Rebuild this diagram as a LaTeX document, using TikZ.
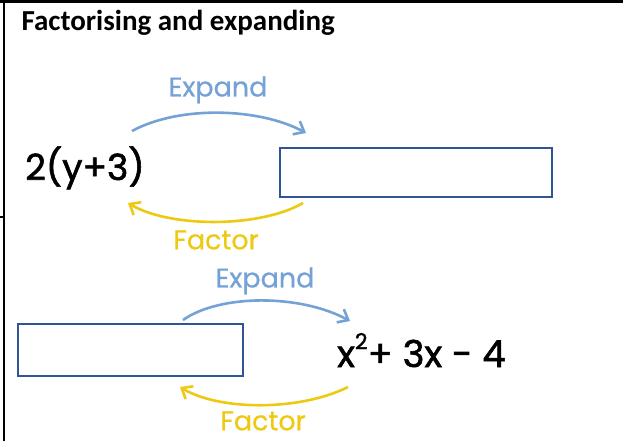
\documentclass[tikz,border=0pt]{standalone}
\usepackage{fontspec}
\setmainfont{Carlito}
\newfontfamily\handfont[FakeBold=1.6]{Poppins}
\newfontfamily\tagfont[FakeBold=0.6]{Poppins}
\usetikzlibrary{positioning,arrows.meta}
\definecolor{boxblue}{HTML}{2F5597}
\definecolor{expandblue}{HTML}{74A2D6}
\definecolor{factoryellow}{HTML}{EEC912}

\begin{document}
\begin{tikzpicture}[x=1pt, y=-1pt,
  answer/.style={draw=boxblue, line width=1.8pt, inner sep=0pt},
  expr/.style={font=\handfont\fontsize{36}{38}\selectfont, text=black, inner sep=0pt},
  tag/.style={font=\tagfont\fontsize{27}{29}\selectfont, inner sep=0pt},
  expandarrow/.style={-{Straight Barb[length=9pt,width=15pt]}, line width=2.6pt, color=expandblue},
  factorarrow/.style={-{Straight Barb[length=9pt,width=15pt]}, line width=2.6pt, color=factoryellow}
]
\useasboundingbox (0,0) rectangle (623,441);

% table lines
\draw[line width=3pt] (0,1.5) -- (623,1.5);
\draw[line width=2.4pt] (4,0) -- (4,441);
\draw[line width=2pt] (0,217) -- (4,217);

\node[anchor=base west, font=\bfseries\fontsize{29}{32}\selectfont] (title) at (18,31) {Factorising and expanding};

% first pair
\node[expr, anchor=base west] (lhs) at (25,180) {2(y+3)};
\node[answer, anchor=north west, minimum width=272pt, minimum height=49pt] (ans1) at (279,147) {};

\coordinate (e1s) at (132,131);
\coordinate (e1e) at (306,133);
\coordinate (f1s) at (303,203);
\coordinate (f1e) at (128,203);
\draw[expandarrow] (e1s) .. controls (180,105) and (260,108) .. (e1e);
\draw[factorarrow] (f1s) .. controls (260,228) and (170,228) .. (f1e);
\node[tag, text=expandblue] (exp1) at (218,90) {Expand};
\node[tag, text=factoryellow] (fac1) at (216,240) {Factor};

% second pair
\node[answer, anchor=north west, minimum width=225pt, minimum height=52pt] (ans2) at (17,323) {};
\node[expr, anchor=base west, font=\handfont\fontsize{37}{39}\selectfont] (rhs) at (337,367)
  {x\raisebox{0.48em}{\fontsize{22}{22}\selectfont 2}+ 3x - 4};

\coordinate (e2s) at (183,320);
\coordinate (e2e) at (350,321);
\coordinate (f2s) at (348,387);
\coordinate (f2e) at (180,387);
\draw[expandarrow] (e2s) .. controls (220,294) and (300,294) .. (e2e);
\draw[factorarrow] (f2s) .. controls (300,411) and (220,411) .. (f2e);
\node[tag, text=expandblue] (exp2) at (265,281) {Expand};
\node[tag, text=factoryellow] (fac2) at (263,421) {Factor};

\end{tikzpicture}
\end{document}
